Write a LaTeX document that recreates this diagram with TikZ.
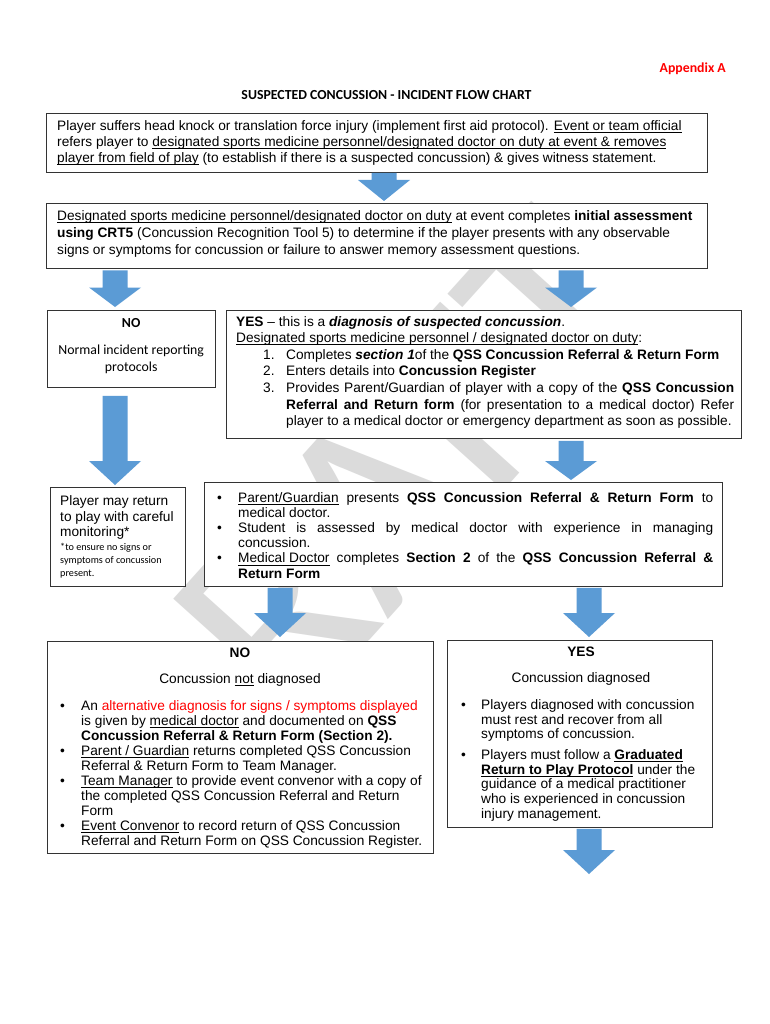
\documentclass[tikz,border=0pt]{standalone}
\usepackage{fontspec}
\setmainfont{Liberation Sans}
\newfontfamily\calibri{Carlito}
\usetikzlibrary{calc}
\definecolor{arrowblue}{HTML}{5B9BD5}
\definecolor{redtxt}{HTML}{FF0000}
\newsavebox\ulbx
\newcommand\myul[1]{\leavevmode\sbox\ulbx{#1}\rlap{\rule[-2.2pt]{\wd\ulbx}{0.6pt}}\usebox\ulbx}
\newcommand\boxtext[3]{\begin{minipage}[t]{#1pt}\fontsize{13.7}{#2}\selectfont #3\end{minipage}}
\newcommand\barrow[6]{%
  \fill[arrowblue] let \p1=(#1.south), \p2=(#2.north),
    \n1={\y1-#4}, \n2={\y2+#5}, \n3={\y2+#5+#6} in
    ({(#3-12.5)*1pt},{\n1*1pt}) -- ({(#3+12.5)*1pt},{\n1*1pt}) -- ({(#3+12.5)*1pt},{\n3*1pt})
    -- ({(#3+26)*1pt},{\n3*1pt}) -- ({#3*1pt},{\n2*1pt}) -- ({(#3-26)*1pt},{\n3*1pt})
    -- ({(#3-12.5)*1pt},{\n3*1pt}) -- cycle;}
\tikzset{
  box/.style={draw=black!80, line width=0.8pt, fill=white, anchor=north west, inner sep=0pt},
  txt/.style={anchor=base west, inner sep=0pt},
  ctxt/.style={anchor=base, inner sep=0pt, font=\fontsize{13.7}{16}\selectfont},
}
\begin{document}
\begin{tikzpicture}[x=1pt,y=-1pt]
\useasboundingbox (0,0) rectangle (770,1024);
\fill[white] (0,0) rectangle (770,1024);
% watermark
\node[rotate=48, text=black!14, inner sep=0pt, font=\calibri\fontsize{270}{270}\selectfont] (wm) at (356,526) {DRAFT};
% header
\node[anchor=base east, inner sep=0pt, text=redtxt, font=\calibri\bfseries\fontsize{13.8}{16}\selectfont] (app) at (726,72.5) {Appendix A};
\node[anchor=base, inner sep=0pt, font=\calibri\bfseries\fontsize{13.8}{16}\selectfont] (title) at (386.5,99.5) {SUSPECTED CONCUSSION - INCIDENT FLOW CHART};
% boxes
\node[box, minimum width=661, minimum height=59] (b1) at (46,113) {};
\node[box, minimum width=661, minimum height=65] (b2) at (46,203) {};
\node[box, minimum width=168, minimum height=77] (no1) at (47,310) {};
\node[box, minimum width=515, minimum height=128] (yes1) at (226,310) {};
\node[box, minimum width=135, minimum height=99] (pl) at (50,487) {};
\node[box, minimum width=518, minimum height=104] (bul) at (204,482) {};
\node[box, minimum width=386, minimum height=212] (nob) at (47,641) {};
\node[box, minimum width=265, minimum height=187] (yesb) at (447,640) {};
\coordinate (endpt) at (589,874);
% arrows
\barrow{b1}{b2}{384}{0}{2}{21}
\barrow{b2}{no1}{115}{1.6}{3}{19.5}
\barrow{b2}{yes1}{571}{1.6}{3}{19.5}
\barrow{no1}{pl}{115}{8}{2}{24}
\barrow{yes1}{bul}{571}{2}{2}{19}
\barrow{bul}{nob}{280}{1}{4}{24}
\barrow{bul}{yesb}{589}{1}{3}{24}
\barrow{yesb}{endpt}{589}{1}{0}{24}
% texts
\node[txt] (t1) at (57,130.5) {\boxtext{650}{16}{%
Player suffers head knock or translation force injury (implement first aid protocol). \myul{Event or team official}\par
refers player to \myul{designated sports medicine personnel/designated doctor on duty at event \& removes}\par
\myul{player from field of play} (to establish if there is a suspected concussion) \& gives witness statement.}};
\node[txt] (t2) at (57,220.5) {\boxtext{650}{17}{%
\myul{Designated sports medicine personnel/designated doctor on duty} at event completes \textbf{initial assessment}\par
\textbf{using CRT5} (Concussion Recognition Tool 5) to determine if the player presents with any observable\par
signs or symptoms for concussion or failure to answer memory assessment questions.}};
\node[txt] (t3) at (47,327) {\begin{minipage}[t]{168pt}\centering\calibri\fontsize{13.8}{17}\selectfont
\textbf{NO}\par\vspace{10.5pt}Normal incident reporting\par protocols\end{minipage}};
\node[txt] (t4) at (236,326) {\boxtext{500}{16.6}{%
\textbf{YES} -- this is a \textbf{\textit{diagnosis of suspected concussion}}.\par
\myul{Designated sports medicine personnel / designated doctor on duty}:\par
\leavevmode\hspace*{27pt}\makebox[23pt][l]{1.}Completes \textbf{\textit{section 1}}of the \textbf{QSS Concussion Referral \& Return Form}\par
\leavevmode\hspace*{27pt}\makebox[23pt][l]{2.}Enters details into \textbf{Concussion Register}\par
\hbox to 498pt{\hspace*{27pt}\makebox[23pt][l]{3.}Provides Parent/Guardian of player with a copy of the \textbf{QSS Concussion}}
\hbox to 498pt{\hspace*{50pt}\textbf{Referral and Return form} (for presentation to a medical doctor) Refer}
\leavevmode\hspace*{50pt}player to a medical doctor or emergency department as soon as possible.}};
\node[txt] (t5) at (60,505.5) {\boxtext{125}{15.5}{Player may return\par to play with careful\par monitoring*}};
\node[txt] (t6) at (60,550) {\begin{minipage}[t]{125pt}\calibri\fontsize{10.2}{13}\selectfont
*to ensure no signs or\par symptoms of concussion\par present.\end{minipage}};
\node[txt] (t7) at (217,502.5) {\boxtext{500}{15.1}{%
\hbox to 496pt{\makebox[21pt][l]{•}\myul{Parent/Guardian} presents \textbf{QSS Concussion Referral \& Return Form} to}
\leavevmode\hspace*{21pt}medical doctor.\par
\hbox to 496pt{\makebox[21pt][l]{•}Student is assessed by medical doctor with experience in managing}
\leavevmode\hspace*{21pt}concussion.\par
\hbox to 496pt{\makebox[21pt][l]{•}\myul{Medical Doctor} completes \textbf{Section 2} of the \textbf{QSS Concussion Referral \&}}
\leavevmode\hspace*{21pt}\textbf{Return Form}}};
\node[ctxt] (t8) at (240,657.5) {\textbf{NO}};
\node[ctxt] (t9) at (240,683.5) {Concussion \myul{not} diagnosed};
\node[txt] (t10) at (60,710) {\boxtext{380}{15.05}{%
\makebox[21pt][l]{•}An \textcolor{redtxt}{alternative diagnosis for signs / symptoms displayed}\par
\leavevmode\hspace*{21pt}is given by \myul{medical doctor} and documented on \textbf{QSS}\par
\leavevmode\hspace*{21pt}\textbf{Concussion Referral \& Return Form (Section 2).}\par
\makebox[21pt][l]{•}\myul{Parent / Guardian} returns completed QSS Concussion\par
\leavevmode\hspace*{21pt}Referral \& Return Form to Team Manager.\par
\makebox[21pt][l]{•}\myul{Team Manager} to provide event convenor with a copy of\par
\leavevmode\hspace*{21pt}the completed QSS Concussion Referral and Return\par
\leavevmode\hspace*{21pt}Form\par
\makebox[21pt][l]{•}\myul{Event Convenor} to record return of QSS Concussion\par
\leavevmode\hspace*{21pt}Referral and Return Form on QSS Concussion Register.}};
\node[ctxt] (t11) at (581,656.5) {\textbf{YES}};
\node[ctxt] (t12) at (581,682.5) {Concussion diagnosed};
\node[txt] (t13) at (461,709.5) {\boxtext{245}{14.6}{%
\makebox[20pt][l]{•}Players diagnosed with concussion\par
\leavevmode\hspace*{20pt}must rest and recover from all\par
\leavevmode\hspace*{20pt}symptoms of concussion.\par\vspace{6.4pt}
\makebox[20pt][l]{•}Players must follow a \myul{\textbf{Graduated}}\par
\leavevmode\hspace*{20pt}\myul{\textbf{Return to Play Protocol}} under the\par
\leavevmode\hspace*{20pt}guidance of a medical practitioner\par
\leavevmode\hspace*{20pt}who is experienced in concussion\par
\leavevmode\hspace*{20pt}injury management.}};
\end{tikzpicture}
\end{document}
